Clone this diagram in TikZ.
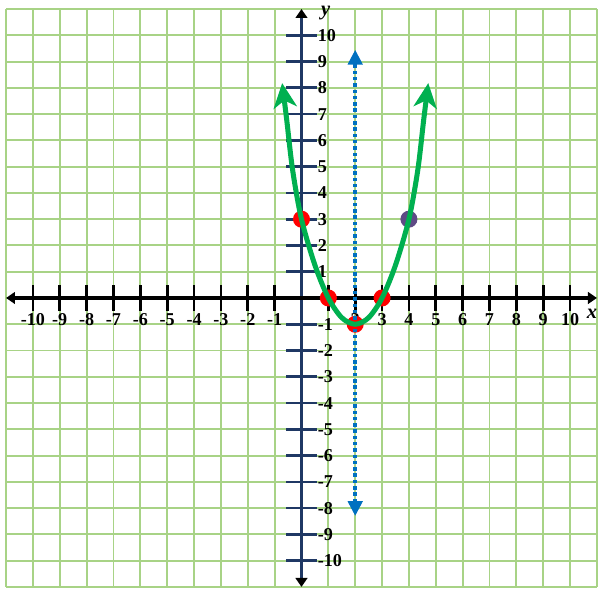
\documentclass[tikz,border=0pt]{standalone}
\usepackage{xcolor}
\usepackage{tikz}
\usetikzlibrary{arrows.meta}
\usepackage{fontspec}
\setmainfont{Liberation Serif}
\definecolor{gridgreen}{RGB}{168,211,134}
\definecolor{axisnavy}{RGB}{31,56,100}
\definecolor{curvegreen}{RGB}{0,176,80}
\definecolor{symblue}{RGB}{0,112,192}
\definecolor{dotpurple}{RGB}{94,74,133}

\begin{document}
\begin{tikzpicture}[
  x=0.6cm, y=0.5868cm,
  gridline/.style={draw=gridgreen, line width=1.2pt},
  xaxis/.style={draw=black, line width=2.2pt,
    {Triangle[length=2mm,width=2.6mm]}-{Triangle[length=2mm,width=2.6mm]}},
  yaxis/.style={draw=axisnavy, line width=1.6pt,
    {Triangle[length=2mm,width=2.6mm,color=black]}-{Triangle[length=2mm,width=2.6mm,color=black]}},
  xtick/.style={draw=black, line width=1.7pt},
  ytick/.style={draw=axisnavy, line width=1.7pt},
  numlabel/.style={font=\fontsize{11.5}{12}\selectfont\bfseries, inner sep=0pt},
  axisname/.style={font=\fontsize{13}{13}\selectfont\bfseries\itshape, inner sep=0pt},
  reddot/.style={circle, fill=red, minimum size=0.38cm, inner sep=0pt},
  purpledot/.style={reddot, fill=dotpurple},
  symline/.style={draw=symblue, line width=2.2pt, dash pattern=on 2.2pt off 1.8pt,
    {Triangle[length=3.3mm,width=3.2mm]}-{Triangle[length=3.3mm,width=3.2mm]}},
  curve/.style={draw=curvegreen, line width=3.2pt,
    {Stealth[length=5.5mm,width=5.2mm,inset=1.6mm]}-{Stealth[length=5.5mm,width=5.2mm,inset=1.6mm]}}
]
\useasboundingbox (-11.225,-11.115) rectangle (11.04,11.344);

\foreach \i in {-11,...,11} {
  \draw[gridline] (\i,-11) -- (\i,11);
  \draw[gridline] (-11,\i) -- (11,\i);
}

\coordinate (xl) at (-11,0);
\coordinate (xr) at (11,0);
\coordinate (yb) at (0,-11);
\coordinate (yt) at (0,11);
\draw[yaxis] (yb) -- (yt);
\draw[xaxis] (xl) -- (xr);

\foreach \i in {-10,...,-1,1,2,...,10} {
  \draw[xtick] (\i,-0.5) -- (\i,0.5);
  \draw[ytick] (-0.56,\i) -- (0.56,\i);
  \node[numlabel, anchor=west] (yn\i) at (0.6,\i) {\i};
}
\foreach \i in {-10,...,-1,2,3,...,10}
  \node[numlabel] (xn\i) at (\i,-0.82) {\i};
\node[axisname, anchor=east] (xname) at (11.02,-0.6) {x};
\node[axisname] (yname) at (0.9,10.85) {y};

\node[reddot] (p0) at (0,3) {};
\node[reddot] (p1) at (1,0) {};
\node[reddot] (p2) at (2,-1) {};
\node[reddot] (p3) at (3,0) {};
\node[purpledot] (p4) at (4,3) {};

\coordinate (symtop) at (2,9.45);
\coordinate (symbot) at (2,-8.3);
\draw[symline] (symbot) -- (symtop);

\draw[curve] plot[smooth] coordinates {(-0.72,8.18) (-0.55,6.78) (-0.33,4.87) (0,3)
  (0.5,1.25) (1,0) (1.5,-0.75) (2,-1) (2.5,-0.75) (3,0) (3.5,1.25) (4,3)
  (4.33,4.87) (4.55,6.78) (4.72,8.18)};
\end{tikzpicture}
\end{document}
